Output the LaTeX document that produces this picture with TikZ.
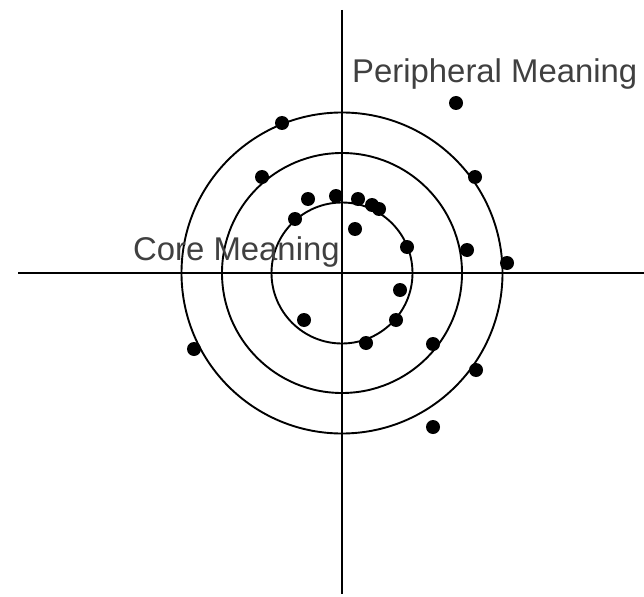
\documentclass[tikz,border=0pt]{standalone}
\usepackage{fontspec}
\setmainfont{Liberation Sans}

\begin{document}
\begin{tikzpicture}[x=1bp, y=-1bp,
  axis/.style={line width=2.6bp},
  ring/.style={line width=1.9bp},
  dot/.style={circle, fill=black, inner sep=0pt, minimum size=14bp},
  lbl/.style={text=black!75, inner sep=0pt, font=\fontsize{33}{39}\selectfont}]
  \useasboundingbox (0,0) rectangle (644,597);

  % Axes
  \coordinate (o) at (342,273);
  \coordinate (north) at (342,10);
  \coordinate (south) at (342,594);
  \coordinate (west) at (18,273);
  \coordinate (east) at (644,273);
  \draw[axis] (north) -- (south);
  \draw[axis] (west) -- (east);

  % Rings
  \draw[ring] (o) circle (70.5);
  \draw[ring] (o) circle (120);
  \draw[ring] (o) circle (160.5);

  % Labels
  \node[lbl, anchor=base west] (periph) at (352,83) {Peripheral Meaning};
  \node[lbl, anchor=base west] (core) at (133,260) {Core Meaning};

  % Dots
  \foreach \n/\x/\y in {d1/456/103, d2/282/123, d3/475/177, d4/262/177,
      d5/308/199, d6/336/196, d7/358/199, d8/372/205, d9/379/209,
      d10/295/219, d11/355/229, d12/407/247, d13/467/250, d14/507/263,
      d15/400/290, d16/304/320, d17/396/320, d18/366/343, d19/433/344,
      d20/194/349, d21/476/370, d22/433/427}
    \node[dot] (\n) at (\x,\y) {};
\end{tikzpicture}
\end{document}
